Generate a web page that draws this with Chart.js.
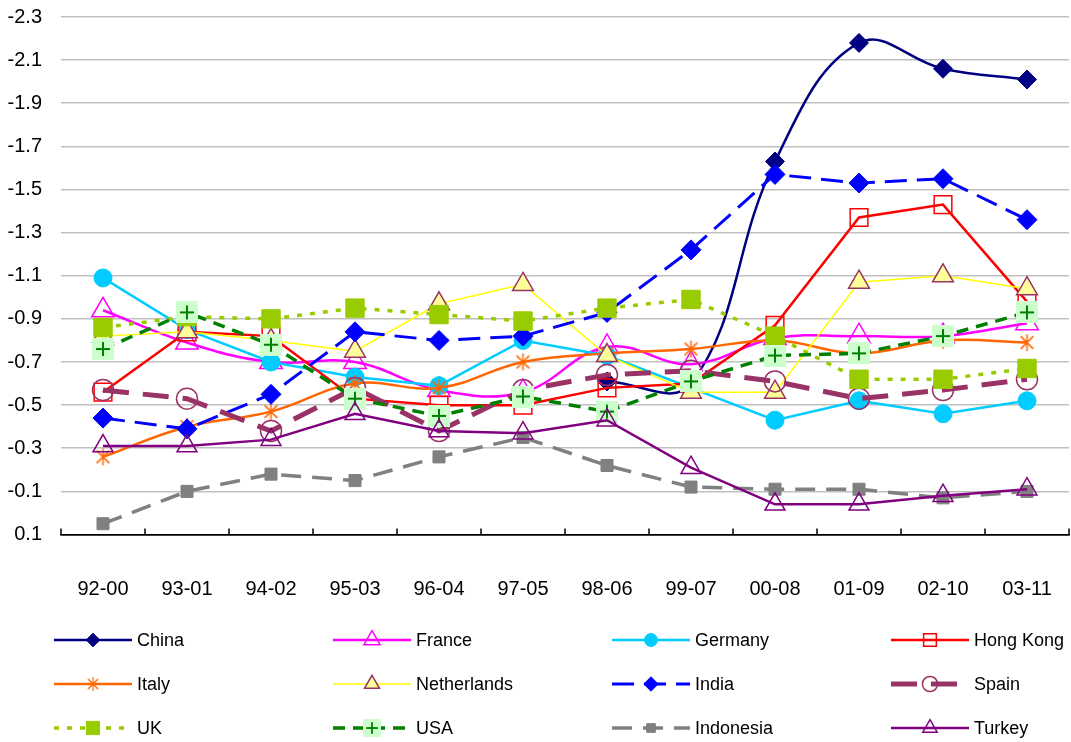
<!DOCTYPE html>
<html>
<head>
<meta charset="utf-8">
<script src="https://cdn.jsdelivr.net/npm/chart.js@4.4.1/dist/chart.umd.min.js"></script>
<style>
  html, body { margin: 0; padding: 0; background: #fff; }
  canvas { display: block; }
</style>
</head>
<body>
<canvas id="chart" width="1071" height="742" style="width:1071px;height:742px"></canvas>
<script>
// categories and values (China starts in 98-06)
const categories = ['92-00', '93-01', '94-02', '95-03', '96-04', '97-05', '98-06', '99-07', '00-08', '01-09', '02-10', '03-11'];
const yTicks = [0.1, -0.1, -0.3, -0.5, -0.7, -0.9, -1.1, -1.3, -1.5, -1.7, -1.9, -2.1, -2.3];

const china       = [null, null, null, null, null, null, -0.61, -0.60, -1.63, -2.18, -2.06, -2.01];
const france      = [-0.94, -0.79, -0.70, -0.70, -0.57, -0.56, -0.77, -0.69, -0.81, -0.82, -0.82, -0.88];
const germany     = [-1.09, -0.85, -0.70, -0.63, -0.59, -0.80, -0.73, -0.58, -0.43, -0.52, -0.46, -0.52];
const hongKong    = [-0.56, -0.84, -0.82, -0.53, -0.50, -0.50, -0.58, -0.60, -0.87, -1.37, -1.43, -0.98];
const italy       = [-0.26, -0.40, -0.47, -0.60, -0.58, -0.70, -0.74, -0.76, -0.80, -0.74, -0.80, -0.79];
const netherlands = [-0.82, -0.84, -0.80, -0.75, -0.97, -1.06, -0.73, -0.56, -0.56, -1.07, -1.10, -1.04];
const india       = [-0.44, -0.39, -0.55, -0.84, -0.80, -0.82, -0.93, -1.22, -1.57, -1.53, -1.55, -1.36];
const spain       = [-0.57, -0.53, -0.38, -0.58, -0.38, -0.57, -0.64, -0.66, -0.61, -0.53, -0.57, -0.62];
const uk          = [-0.86, -0.91, -0.90, -0.95, -0.92, -0.89, -0.95, -0.99, -0.82, -0.62, -0.62, -0.67];
const usa         = [-0.76, -0.93, -0.78, -0.53, -0.45, -0.54, -0.47, -0.61, -0.73, -0.74, -0.82, -0.93];
const indonesia   = [0.05, -0.10, -0.18, -0.15, -0.26, -0.35, -0.22, -0.12, -0.11, -0.11, -0.07, -0.10];
const turkey      = [-0.31, -0.31, -0.34, -0.46, -0.38, -0.37, -0.43, -0.21, -0.04, -0.04, -0.08, -0.11];

// marker images for the two Excel markers Chart.js doesn't have
function plusMarker(size) {
  const c = document.createElement('canvas');
  c.width = size; c.height = size;
  const g = c.getContext('2d');
  g.fillStyle = '#ccffcc';
  g.fillRect(0, 0, size, size);
  g.strokeStyle = '#008000';
  g.lineWidth = 2;
  const m = size / 2, arm = size * 0.32;
  g.beginPath();
  g.moveTo(m - arm, m); g.lineTo(m + arm, m);
  g.moveTo(m, m - arm); g.lineTo(m, m + arm);
  g.stroke();
  return c;
}
function starMarker(size) {
  const c = document.createElement('canvas');
  c.width = size; c.height = size;
  const g = c.getContext('2d');
  g.strokeStyle = '#ff6600';
  g.lineWidth = 1.5;
  const m = size / 2, r = size / 2 - 1, d = r * 0.75;
  g.beginPath();
  g.moveTo(m, m - r); g.lineTo(m, m + r);
  g.moveTo(m - d, m - d); g.lineTo(m + d, m + d);
  g.moveTo(m + d, m - d); g.lineTo(m - d, m + d);
  g.stroke();
  return c;
}

const open = 'rgba(0,0,0,0)';
const series = [
  { label: 'China', data: china, color: '#000080', width: 2.5, dash: [], tension: 0.4, style: 'rectRot', radius: 9.5, fill: '#000080' },
  { label: 'France', data: france, color: '#ff00ff', width: 2.5, dash: [], tension: 0.4, style: 'triangle', radius: 13, fill: open, pb: 1.5 },
  { label: 'Germany', data: germany, color: '#00ccff', width: 2.5, dash: [], tension: 0, style: 'circle', radius: 9, fill: '#00ccff' },
  { label: 'Hong Kong', data: hongKong, color: '#ff0000', width: 2.5, dash: [], tension: 0, style: 'rect', radius: 12.5, fill: open, pb: 1.5 },
  { label: 'Italy', data: italy, color: '#ff6600', width: 2.5, dash: [], tension: 0.4, style: starMarker(19), radius: 9, fill: '#ff6600' },
  { label: 'Netherlands', data: netherlands, color: '#ffff00', width: 1.5, dash: [], tension: 0, style: 'triangle', radius: 12, fill: '#ffff99', border: '#993366', pb: 1.5 },
  { label: 'India', data: india, color: '#0000ff', width: 3, dash: [22, 10], tension: 0, style: 'rectRot', radius: 10, fill: '#0000ff' },
  { label: 'Spain', data: spain, color: '#993366', width: 5, dash: [26, 14], tension: 0, style: 'circle', radius: 10.5, fill: open, pb: 1.5 },
  { label: 'UK', data: uk, color: '#99cc00', width: 3.5, dash: [5, 8], tension: 0, style: 'rect', radius: 13, fill: '#99cc00' },
  { label: 'USA', data: usa, color: '#008000', width: 3.5, dash: [12, 8], tension: 0, style: plusMarker(22), radius: 11, fill: '#ccffcc' },
  { label: 'Indonesia', data: indonesia, color: '#808080', width: 3.5, dash: [20, 11], tension: 0, style: 'rect', radius: 8.5, fill: '#808080' },
  { label: 'Turkey', data: turkey, color: '#800080', width: 2.5, dash: [], tension: 0, style: 'triangle', radius: 11.5, fill: open, pb: 1.5 }
];

const datasets = series.map((s, i) => ({
  label: s.label,
  data: s.data,
  borderColor: s.color,
  borderWidth: s.width,
  borderDash: s.dash,
  borderCapStyle: 'butt',
  tension: s.tension,
  fill: false,
  pointStyle: s.style,
  pointRadius: s.radius,
  pointHoverRadius: s.radius,
  pointBackgroundColor: s.fill,
  pointBorderColor: s.border || s.color,
  pointBorderWidth: s.pb || 1,
  order: series.length - i   // later series on top, as in Excel
}));

// short tick marks inside the plot at the category boundaries
const innerTicks = {
  id: 'innerTicks',
  afterDatasetsDraw(chart) {
    const sx = chart.scales.x, ctx = chart.ctx, yb = chart.chartArea.bottom;
    ctx.save();
    ctx.strokeStyle = '#000';
    ctx.lineWidth = 1.5;
    ctx.beginPath();
    for (let i = 0; i <= categories.length; i++) {
      const px = sx.getPixelForValue(i - 0.5);
      ctx.moveTo(px, yb);
      ctx.lineTo(px, yb - 6);
    }
    ctx.stroke();
    ctx.restore();
  }
};

// legend in a 4 x 3 grid below the chart
const gridLegend = {
  id: 'gridLegend',
  afterDraw(chart) {
    const ctx = chart.ctx;
    const left = 54, colW = 279, top = 640, rowH = 44, sample = 78;
    ctx.save();
    chart.data.datasets.forEach((ds, i) => {
      const x0 = left + (i % 4) * colW;
      const y = top + Math.floor(i / 4) * rowH;
      ctx.strokeStyle = ds.borderColor;
      ctx.lineWidth = ds.borderWidth;
      ctx.lineCap = 'butt';
      ctx.setLineDash(ds.borderDash);
      ctx.beginPath();
      ctx.moveTo(x0, y);
      ctx.lineTo(x0 + sample, y);
      ctx.stroke();
      ctx.setLineDash([]);
      const mx = x0 + sample / 2;
      if (ds.pointStyle instanceof HTMLCanvasElement) {
        const w = ds.pointStyle.width * 0.82;
        ctx.drawImage(ds.pointStyle, mx - w / 2, y - w / 2, w, w);
      } else if (Chart.helpers && Chart.helpers.drawPoint) {
        ctx.fillStyle = ds.pointBackgroundColor;
        ctx.strokeStyle = ds.pointBorderColor;
        ctx.lineWidth = ds.pointBorderWidth;
        Chart.helpers.drawPoint(ctx, { pointStyle: ds.pointStyle, radius: ds.pointRadius * 0.72, rotation: 0, borderWidth: ds.pointBorderWidth }, mx, y);
      }
      ctx.fillStyle = '#000';
      ctx.font = '18px "Liberation Sans", Arial, sans-serif';
      ctx.textAlign = 'left';
      ctx.textBaseline = 'middle';
      ctx.fillText(ds.label, x0 + sample + 5, y + 1);
    });
    ctx.restore();
  }
};

Chart.defaults.font.family = '"Liberation Sans", Arial, sans-serif';
Chart.defaults.color = '#000';

new Chart(document.getElementById('chart'), {
  type: 'line',
  data: { labels: categories, datasets: datasets },
  options: {
    responsive: false,
    animation: false,
    layout: { autoPadding: false, padding: { top: 17, right: 2, bottom: 137.5, left: 0 } },
    plugins: {
      legend: { display: false },
      tooltip: { enabled: false }
    },
    scales: {
      x: {
        offset: true,
        // invisible tick marks push the labels down without widening the axis padding
        grid: { display: true, drawOnChartArea: false, drawTicks: true, tickLength: 43, color: 'rgba(0,0,0,0)' },
        border: { display: true, color: '#000', width: 1.5 },
        ticks: { font: { size: 20 }, color: '#000', padding: 0, maxRotation: 0 },
        afterFit: (scale) => { scale.height = 70; scale.paddingLeft = 0; scale.paddingRight = 0; }
      },
      y: {
        reverse: true,
        min: -2.3,
        max: 0.1,
        afterBuildTicks: (scale) => { scale.ticks = yTicks.map(v => ({ value: v })); },
        afterFit: (scale) => { scale.width = 61; scale.paddingTop = 0; scale.paddingBottom = 0; },
        grid: {
          drawTicks: false,
          lineWidth: 1.5,
          color: (c) => (c.tick && c.tick.value === 0.1 ? '#000' : '#c0c0c0')
        },
        border: { display: false },
        ticks: {
          font: { size: 20 },
          color: '#000',
          padding: 19,
          callback: (v) => Number(v).toFixed(1)
        }
      }
    }
  },
  plugins: [innerTicks, gridLegend]
});
</script>
</body>
</html>
